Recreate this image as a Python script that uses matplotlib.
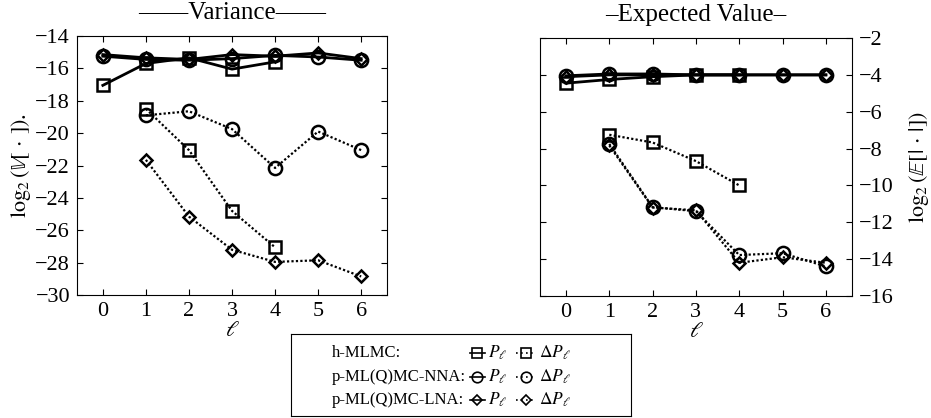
import matplotlib
matplotlib.use('Agg')
import matplotlib.pyplot as plt
from matplotlib.lines import Line2D

plt.rcParams['font.family'] = ['Liberation Serif', 'DejaVu Serif']
plt.rcParams['mathtext.fontset'] = 'stix'

levels = [0, 1, 2, 3, 4, 5, 6]

# variance, log2
var_h_P = [-17.05, -15.7, -15.35, -16.05, -15.6]
var_h_dP = [-18.5, -21.05, -24.8, -27.05]
var_nna_P = [-15.25, -15.45, -15.5, -15.4, -15.2, -15.3, -15.5]
var_nna_dP = [-18.9, -18.65, -19.75, -22.15, -19.9, -21.05]
var_lna_P = [-15.15, -15.35, -15.45, -15.15, -15.25, -15.05, -15.4]
var_lna_dP = [-21.65, -25.15, -27.2, -27.95, -27.85, -28.85]

# expected value, log2
ev_h_P = [-4.45, -4.25, -4.1, -4.0, -4.0]
ev_h_dP = [-7.25, -7.67, -8.68, -10.0]
ev_nna_P = [-4.05, -3.95, -3.95, -4.0, -4.0, -4.0, -4.0]
ev_nna_dP = [-7.75, -11.18, -11.4, -13.78, -13.68, -14.4]
ev_lna_P = [-4.1, -4.0, -4.0, -4.0, -4.0, -4.0, -4.0]
ev_lna_dP = [-7.83, -11.2, -11.35, -14.2, -13.9, -14.2]

methods = ['h-MLMC:', 'p-ML(Q)MC-NNA:', 'p-ML(Q)MC-LNA:']
markers = ['s', 'o', 'D']
sizes = [8.5, 9.5, 6.5]

fig = plt.figure(figsize=(9.31, 4.18), dpi=100)
ax1 = fig.add_axes([0.0827, 0.294, 0.333, 0.62])
ax2 = fig.add_axes([0.58, 0.292, 0.335, 0.617])

mew = 1.8


def draw(ax, series):
    for (P, dP), m, ms in zip(series, markers, sizes):
        ax.plot(levels[:len(P)], P, '-', color='black', lw=2, marker=m,
                ms=ms, mew=mew, mfc='none', mec='black')
        ax.plot(levels[1:1 + len(dP)], dP, color='black', lw=1.6, ls=(0, (1, 1)),
                marker=m, ms=ms, mew=mew, mfc='none', mec='black')


draw(ax1, [(var_h_P, var_h_dP), (var_nna_P, var_nna_dP), (var_lna_P, var_lna_dP)])
draw(ax2, [(ev_h_P, ev_h_dP), (ev_nna_P, ev_nna_dP), (ev_lna_P, ev_lna_dP)])

for ax in (ax1, ax2):
    ax.set_xlim(-0.6, 6.6)
    ax.set_xticks(levels)
    ax.tick_params(direction='in', top=True, right=True, labelsize=16, length=4,
                   pad=5)
    ax.set_xlabel(r'$\ell$', fontsize=16, labelpad=1)
    for s in ax.spines.values():
        s.set_linewidth(0.8)

ax1.set_ylim(-30, -14)
ax1.set_yticks(range(-30, -13, 2))
ax1.set_ylabel(r'$\log_2(\mathbb{V}[\,\cdot\,])$.', fontsize=16, labelpad=2)
ax1.set_title('——Variance——', fontsize=18, pad=12)

ax2.set_ylim(-16, -2)
ax2.set_yticks(range(-16, -1, 2))
ax2.tick_params(labelleft=False, labelright=True, left=True)
ax2.yaxis.set_label_position('right')
ax2.set_ylabel(r'$\log_2(\mathbb{E}[|\,\cdot\,|])$', fontsize=16, labelpad=10)
ax2.set_title('–Expected Value–', fontsize=18, pad=12)

# legend box
lax = fig.add_axes([291 / 931, 2 / 418, 340 / 931, 82 / 418])
lax.set_xlim(0, 340)
lax.set_ylim(0, 82)
lax.set_xticks([])
lax.set_yticks([])
for s in lax.spines.values():
    s.set_linewidth(0.8)
rows_y = [63, 39, 16]
for name, m, ms, y in zip(methods, markers, sizes, rows_y):
    lms = ms * 0.8
    lax.text(41, y, name, fontsize=12, va='center', ha='left')
    lax.add_line(Line2D([179, 194], [y, y], color='black', lw=1.2, ls='-'))
    lax.plot([186.5], [y], marker=m, ms=lms, mew=1.2, mfc='none', mec='black')
    lax.text(197, y, r'$P_\ell$', fontsize=12.5, va='center', ha='left')
    lax.add_line(Line2D([225, 245], [y, y], color='black', lw=1.2, ls=(0, (1, 2))))
    lax.plot([235], [y], marker=m, ms=lms, mew=1.2, mfc='none', mec='black')
    lax.text(248, y, r'$\Delta P_\ell$', fontsize=12.5, va='center', ha='left')

fig.savefig('out.png', dpi=100)
